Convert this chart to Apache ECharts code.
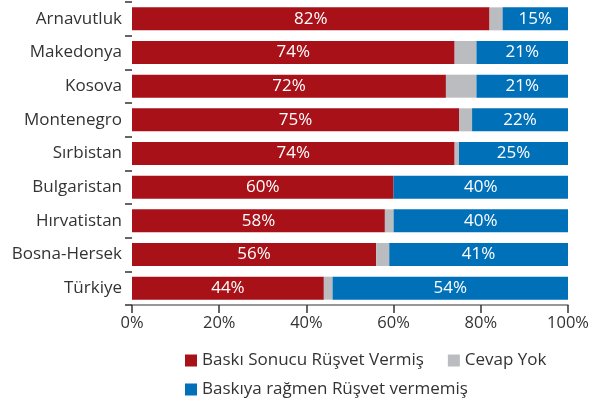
<!DOCTYPE html>
<html>
<head>
<meta charset="utf-8">
<script src="https://cdn.jsdelivr.net/npm/echarts@6/dist/echarts.min.js"></script>
<style>
  html, body { margin: 0; padding: 0; background: #fff; }
  #chart { width: 602px; height: 399px; }
</style>
</head>
<body>
<div id="chart"></div>
<script>
// Countries, top to bottom
const countries = ['Arnavutluk', 'Makedonya', 'Kosova', 'Montenegro', 'Sırbistan',
                   'Bulgaristan', 'Hırvatistan', 'Bosna-Hersek', 'Türkiye'];
// Share (%) who paid a bribe under pressure
const paid = [82, 74, 72, 75, 74, 60, 58, 56, 44];
// Share (%) with no answer
const noAnswer = [3, 5, 7, 3, 1, 0, 2, 3, 2];
// Share (%) who did not pay despite pressure
const refused = [15, 21, 21, 22, 25, 40, 40, 41, 54];
// Value axis tick values
const xTicks = [0, 20, 40, 60, 80, 100];

const seriesNames = ['Baskı Sonucu Rüşvet Vermiş', 'Cevap Yok', 'Baskıya rağmen Rüşvet vermemiş'];
const colors = ['#A81118', '#BBBCC0', '#0070B8'];
const FONT = 'Open Sans';

const chart = echarts.init(document.getElementById('chart'), null, { renderer: 'canvas' });

const labelStyle = {
  show: true,
  position: 'inside',
  color: '#fff',
  fontFamily: FONT,
  fontSize: 17,
  formatter: p => p.value + '%'
};

chart.setOption({
  animation: false,
  textStyle: { fontFamily: FONT },
  grid: { left: 132, right: 34, top: 2, bottom: 94, containLabel: false },
  xAxis: {
    type: 'value',
    min: xTicks[0],
    max: xTicks[xTicks.length - 1],
    interval: 20,
    splitLine: { show: false },
    axisLine: { show: true, lineStyle: { color: '#777', width: 1.5 } },
    axisTick: { show: true, length: 8, lineStyle: { color: '#333', width: 1.5 } },
    axisLabel: { color: '#333', fontSize: 16.5, fontFamily: FONT, margin: 10, formatter: v => v + '%' }
  },
  yAxis: {
    type: 'category',
    data: countries,
    inverse: true,
    axisLine: { show: false },
    axisTick: { show: true, length: 7, lineStyle: { color: '#333', width: 1.5 } },
    axisLabel: { color: '#333', fontSize: 17, fontFamily: FONT, margin: 10 }
  },
  legend: [
    {
      data: [seriesNames[0], seriesNames[1]],
      left: 180, top: 347,
      icon: 'rect', itemWidth: 12, itemHeight: 12, itemGap: 24,
      textStyle: { color: '#333', fontSize: 17, fontFamily: FONT }
    },
    {
      data: [seriesNames[2]],
      left: 180, top: 376,
      icon: 'rect', itemWidth: 12, itemHeight: 12,
      textStyle: { color: '#333', fontSize: 17, fontFamily: FONT }
    }
  ],
  series: [
    { name: seriesNames[0], type: 'bar', stack: 'all', data: paid, barWidth: 23,
      itemStyle: { color: colors[0] }, label: labelStyle },
    { name: seriesNames[1], type: 'bar', stack: 'all', data: noAnswer, barWidth: 23,
      itemStyle: { color: colors[1] }, label: { show: false } },
    { name: seriesNames[2], type: 'bar', stack: 'all', data: refused, barWidth: 23,
      itemStyle: { color: colors[2] }, label: labelStyle }
  ]
});
</script>
</body>
</html>
